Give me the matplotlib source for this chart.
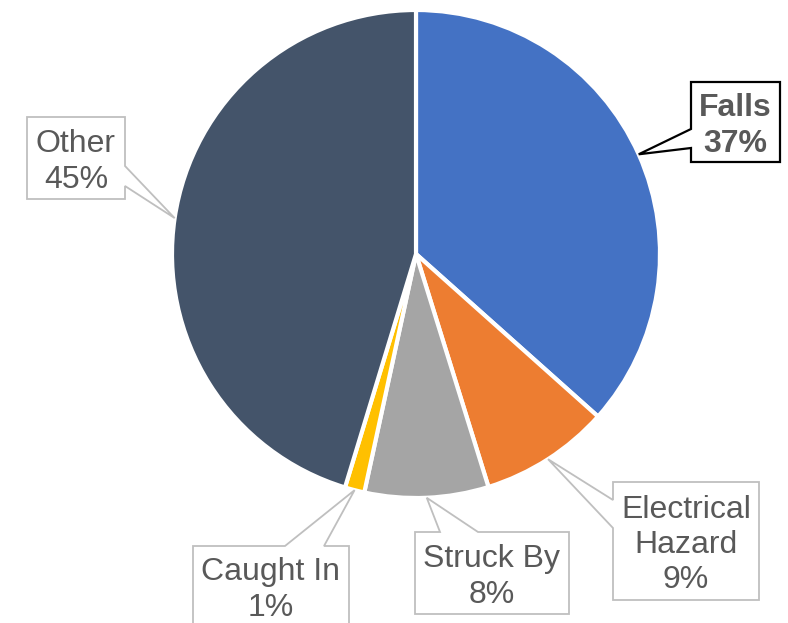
import matplotlib
matplotlib.use("Agg")
import numpy as np
import matplotlib.pyplot as plt
from matplotlib.patches import Polygon

plt.rcParams['font.family'] = ['Liberation Sans', 'DejaVu Sans']

# data
categories = ['Falls', 'Electrical\nHazard', 'Struck By', 'Caught In', 'Other']
shares = [36.6, 8.6, 8.2, 1.3, 45.3]
colors = ['#4472C4', '#ED7D31', '#A5A5A5', '#FFC000', '#44546A']

W, H = 788, 623
CX, CY, R = 416, 254, 244  # pie centre / radius in pixels (top-left origin)

# callout layout: box (x0, y0, x1, y1), side the pointer leaves from, base of pointer
callouts = [
    dict(box=(691, 82, 780, 162), side='left', base=(129, 148), edge='black', bold=True),
    dict(box=(613, 482, 759, 600), side='left', base=(500, 528), edge='#BFBFBF', bold=False),
    dict(box=(415, 532, 569, 614), side='top', base=(440, 478), edge='#BFBFBF', bold=False),
    dict(box=(193, 546, 349, 630), side='top', base=(285, 324), edge='#BFBFBF', bold=False),
    dict(box=(27, 117, 125, 199), side='right', base=(166, 186), edge='#BFBFBF', bold=False),
]


def px(x, y):
    return (x, H - y)


fig = plt.figure(figsize=(W / 100, H / 100), dpi=100)
ax = fig.add_axes([0, 0, 1, 1])

wedges, _ = ax.pie(shares, colors=colors, startangle=90, counterclock=False,
                   center=px(CX, CY), radius=R, frame=True,
                   wedgeprops=dict(edgecolor='white', linewidth=3))
ax.set_xlim(0, W)
ax.set_ylim(0, H)
ax.axis('off')

for w, cat, val, c in zip(wedges, categories, shares, callouts):
    mid = np.deg2rad((w.theta1 + w.theta2) / 2)
    tip = (CX + R * np.cos(mid), CY - R * np.sin(mid))
    x0, y0, x1, y1 = c['box']
    a, b = c['base']
    if c['side'] == 'top':
        pts = [(x0, y0), (a, y0), tip, (b, y0), (x1, y0), (x1, y1), (x0, y1)]
    elif c['side'] == 'right':
        pts = [(x0, y0), (x1, y0), (x1, a), tip, (x1, b), (x1, y1), (x0, y1)]
    else:
        pts = [(x0, y0), (x1, y0), (x1, y1), (x0, y1), (x0, b), tip, (x0, a)]
    ax.add_patch(Polygon([px(*p) for p in pts], closed=True, facecolor='white',
                         edgecolor=c['edge'], linewidth=1.6 if c['bold'] else 1.3,
                         zorder=3))
    ty = (y0 + y1) / 2 + 4
    if cat == 'Caught In':
        ty = 590
    ax.text(*px((x0 + x1) / 2, ty), f"{cat}\n{round(val)}%", ha='center', va='center',
            fontsize=23, color='#595959', linespacing=1.22,
            fontweight='bold' if c['bold'] else 'normal', zorder=4)

fig.savefig('out.png', dpi=100)
